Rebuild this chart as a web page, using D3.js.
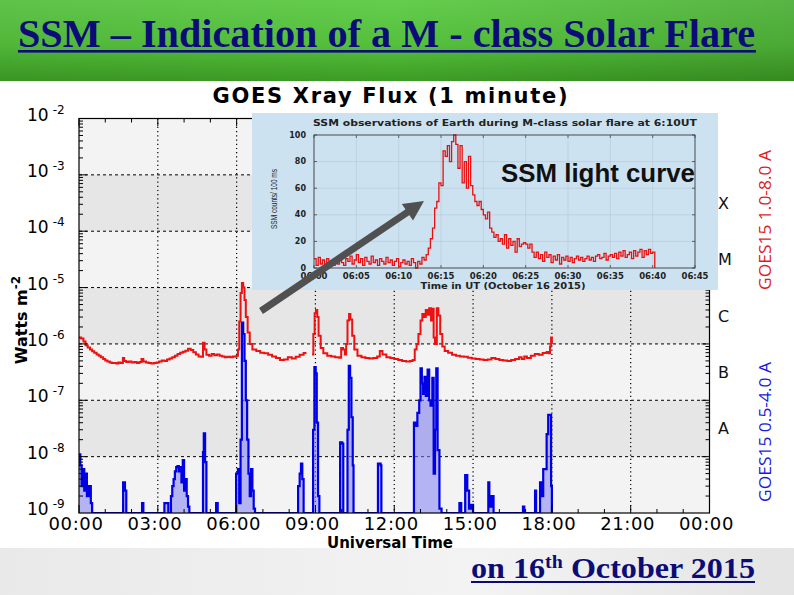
<!DOCTYPE html>
<html><head><meta charset="utf-8">
<script src="https://cdn.jsdelivr.net/npm/d3@7"></script>
<style>body{margin:0;background:#fff}svg{display:block}</style>
</head><body><svg id="c" width="794" height="595"></svg>
<script>
// ---------- DATA ----------
const slideTitle = "SSM \u2013 Indication of a M - class Solar Flare";
const chartTitle = "GOES Xray Flux (1 minute)";
const hourTicks = [0,3,6,9,12,15,18,21,24];
const hourLabels = ["00:00","03:00","06:00","09:00","12:00","15:00","18:00","21:00","00:00"];
const decadeExps = [-2,-3,-4,-5,-6,-7,-8,-9];
const classLabels = ["X","M","C","B","A"];
const classLowExps = [-4,-5,-6,-7,-8];

// GOES15 1.0-8.0 A (hours UT, W m^-2); null = data gap
const redTimes = [0.00,0.08,0.17,0.25,0.33,0.42,0.50,0.58,0.67,0.75,0.83,0.92,1.00,1.08,1.17,1.25,1.33,1.42,1.50,1.58,1.67,1.72,1.80,1.90,2.00,2.10,2.20,2.30,2.38,2.45,2.55,2.65,2.75,2.85,2.95,3.05,3.15,3.25,3.35,3.45,3.55,3.65,3.75,3.85,3.95,4.05,4.15,4.25,4.35,4.45,4.55,4.65,4.72,4.78,4.85,4.95,5.05,5.15,5.25,5.35,5.45,5.55,5.65,5.75,5.85,5.95,6.00,6.05,6.10,6.15,6.20,6.25,6.30,6.35,6.42,6.50,6.60,6.75,6.90,7.05,7.20,7.35,7.50,7.65,7.80,7.95,8.10,8.25,8.40,8.55,8.62,8.70,8.87,8.92,8.97,9.02,9.07,9.12,9.20,9.30,9.45,9.60,9.75,9.90,9.98,10.05,10.12,10.17,10.22,10.28,10.33,10.40,10.48,10.60,10.75,10.90,11.05,11.20,11.35,11.45,11.55,11.70,11.85,12.00,12.15,12.30,12.45,12.60,12.70,12.78,12.85,12.92,13.00,13.07,13.13,13.20,13.27,13.33,13.40,13.45,13.50,13.55,13.62,13.68,13.75,13.83,13.92,14.05,14.20,14.35,14.50,14.65,14.80,14.95,15.10,15.25,15.40,15.55,15.70,15.85,16.00,16.15,16.30,16.45,16.60,16.75,16.85,16.95,17.05,17.20,17.35,17.50,17.65,17.80,17.88,17.93,17.97,18.00];
const redValues = [1.3e-6,1.25e-6,1.1e-6,9.5e-7,8.6e-7,8.0e-7,7.4e-7,7.0e-7,6.5e-7,6.2e-7,5.8e-7,5.4e-7,5.1e-7,4.9e-7,4.7e-7,4.6e-7,4.6e-7,4.5e-7,4.7e-7,4.6e-7,5.6e-7,5.0e-7,4.8e-7,4.9e-7,4.7e-7,4.8e-7,4.6e-7,4.8e-7,5.4e-7,4.9e-7,4.7e-7,4.6e-7,4.5e-7,4.6e-7,4.7e-7,4.9e-7,5.1e-7,5.0e-7,5.3e-7,5.5e-7,5.8e-7,6.2e-7,6.6e-7,7.0e-7,7.3e-7,7.6e-7,8.2e-7,7.8e-7,7.1e-7,6.5e-7,6.0e-7,5.9e-7,1.05e-6,8.0e-7,6.4e-7,6.2e-7,6.6e-7,6.3e-7,6.5e-7,6.2e-7,6.0e-7,5.8e-7,5.9e-7,5.8e-7,6.0e-7,5.9e-7,6.2e-7,8.0e-7,2.5e-6,8.0e-6,1.2e-5,1.0e-5,6.0e-6,3.0e-6,1.6e-6,1.0e-6,8.0e-7,7.5e-7,7.0e-7,6.8e-7,6.4e-7,6.0e-7,5.6e-7,5.2e-7,5.3e-7,5.8e-7,5.5e-7,5.9e-7,6.4e-7,6.9e-7,7.2e-7,null,6.5e-7,1.5e-6,3.5e-6,4.0e-6,3.0e-6,1.4e-6,8.5e-7,6.8e-7,6.2e-7,6.0e-7,5.8e-7,5.7e-7,8.5e-7,8.0e-7,6.5e-7,1.0e-6,2.6e-6,3.4e-6,2.7e-6,1.4e-6,8.0e-7,6.2e-7,5.8e-7,5.6e-7,5.5e-7,5.6e-7,6.0e-7,7.5e-7,6.5e-7,5.8e-7,5.6e-7,5.4e-7,5.2e-7,5.0e-7,4.9e-7,5.0e-7,5.2e-7,8.0e-7,1.0e-6,1.5e-6,2.6e-6,3.4e-6,3.0e-6,4.0e-6,3.3e-6,4.3e-6,2.6e-6,4.2e-6,1.3e-6,1.0e-6,4.3e-6,3.2e-6,1.5e-6,9.0e-7,7.5e-7,7.0e-7,6.4e-7,6.2e-7,6.0e-7,5.9e-7,5.7e-7,5.5e-7,5.4e-7,5.3e-7,5.2e-7,5.3e-7,5.6e-7,5.4e-7,5.2e-7,5.1e-7,5.0e-7,5.2e-7,5.4e-7,5.8e-7,5.4e-7,6.0e-7,5.6e-7,6.2e-7,6.6e-7,6.4e-7,6.9e-7,7.2e-7,6.8e-7,9.0e-7,1.3e-6,1.0e-6];

// GOES15 0.5-4.0 A (hours UT, W m^-2); 1e-9 = at/below plot floor
const blueTimes = [0.00,0.05,0.10,0.15,0.20,0.25,0.30,0.38,0.45,0.50,1.65,1.68,1.75,1.80,2.35,2.40,2.45,3.20,3.25,3.35,3.40,3.50,3.55,3.60,3.65,3.70,3.75,3.80,3.85,3.90,3.95,4.00,4.05,4.10,4.15,4.20,4.70,4.72,4.75,4.80,4.85,5.20,5.22,5.28,5.95,5.98,6.05,6.10,6.15,6.20,6.25,6.30,6.35,6.40,6.45,6.50,6.55,6.60,6.65,6.70,8.30,8.34,8.40,8.45,8.50,8.55,8.88,8.91,8.96,9.01,9.05,9.10,9.15,9.92,9.94,10.02,10.06,10.20,10.22,10.27,10.32,10.37,10.42,10.45,11.36,11.38,11.48,11.51,12.72,12.75,12.82,12.88,12.95,13.00,13.05,13.10,13.15,13.20,13.27,13.33,13.38,13.45,13.50,13.55,13.60,13.65,13.72,13.80,14.45,14.48,14.55,14.68,14.70,14.78,14.85,14.92,15.00,15.55,15.58,15.62,15.70,15.78,16.88,16.90,16.95,17.33,17.36,17.40,17.52,17.55,17.60,17.67,17.74,17.80,17.86,17.93,17.97,18.00];
const blueValues = [1.1e-8,7e-9,3e-9,6e-9,2.5e-9,5e-9,2e-9,3e-9,1.5e-9,1e-9,1e-9,3.5e-9,2.5e-9,1e-9,1e-9,1.5e-9,1e-9,1e-9,1.5e-9,1.5e-9,1e-9,2e-9,3e-9,4e-9,5.5e-9,6.5e-9,6.8e-9,5.5e-9,6.5e-9,3.5e-9,8.7e-9,2.5e-9,4e-9,2e-9,1.3e-9,1e-9,1e-9,1.2e-8,2.6e-8,8e-9,1e-9,1e-9,1.5e-9,1e-9,1e-9,5e-9,6e-9,1.5e-9,2e-8,2.4e-6,1.5e-6,5e-7,1e-7,2e-8,5e-9,2e-9,6e-9,2.5e-9,1.2e-9,1e-9,1e-9,3e-9,5e-9,7.5e-9,4e-9,1e-9,1e-9,3e-8,3.9e-7,3e-7,4e-8,2e-9,1e-9,1e-9,1.8e-8,1.7e-8,1e-9,1e-9,3e-8,4.1e-7,2.5e-7,5e-8,7e-9,1e-9,1e-9,7.5e-9,7e-9,1e-9,1e-9,4e-8,3.5e-8,6e-8,1e-7,3.7e-7,2e-7,1.3e-7,2.6e-7,1.2e-7,3.5e-7,1e-7,8e-8,2.5e-7,5e-9,3e-8,3.7e-7,1.3e-8,1.2e-9,1e-9,1e-9,1.5e-9,1e-9,1e-9,4.7e-9,2.5e-9,1.2e-9,1.4e-9,1e-9,1e-9,3.5e-9,1.3e-9,2e-9,1e-9,1e-9,1.3e-9,1e-9,1e-9,2.5e-9,1e-9,1e-9,3.5e-9,2e-9,6e-9,6e-9,2.5e-8,5.5e-8,5.5e-8,3e-9,1e-9];

// SSM light curve: counts per 100 ms, one sample every 15 s starting 06:00 UT
const ssmStepMinutes = 0.25;
const ssmCounts = [7,2,8,3,6,1,7,4,5,2,6,3,8,4,2,7,5,9,3,6,10,4,7,2,8,5,3,9,4,6,2,7,5,3,8,4,6,2,5,7,1,4,6,3,5,2,7,4,0,5,3,8,6,10,
 15,22,30,45,50,64,62,88,84,92,80,95,100,93,75,92,64,80,60,84,62,55,50,47,50,44,40,37,42,30,27,23,25,20,22,18,25,15,22,17,20,12,22,16,18,19,18,15,18,12,
 8,12,7,10,5,12,8,10,4,9,6,10,3,8,6,9,5,8,4,7,9,6,8,5,7,9,6,8,5,9,10,7,8,11,6,9,10,8,11,7,12,9,13,8,10,12,7,13,9,12,14,8,13,10,14,11,12,0];
const insetYTicks = [0,20,40,60,80,100];
const insetXTicks = [0,5,10,15,20,25,30,35,40,45];
const insetXLabels = ["06:00","06:05","06:10","06:15","06:20","06:25","06:30","06:35","06:40","06:45"];

// ---------- DRAW ----------
const svg = d3.select("#c");
const defs = svg.append("defs");
const g1 = defs.append("linearGradient").attr("id","ban").attr("x1",0).attr("y1",0).attr("x2",0).attr("y2",1);
g1.append("stop").attr("offset","0%").attr("stop-color","#64cd4e");
g1.append("stop").attr("offset","55%").attr("stop-color","#55c03c");
g1.append("stop").attr("offset","100%").attr("stop-color","#3c9c24");
const g2 = defs.append("linearGradient").attr("id","banh").attr("x1",0).attr("y1",0).attr("x2",1).attr("y2",0);
g2.append("stop").attr("offset","0%").attr("stop-color","#000").attr("stop-opacity",0.05);
g2.append("stop").attr("offset","50%").attr("stop-color","#000").attr("stop-opacity",0);
g2.append("stop").attr("offset","100%").attr("stop-color","#000").attr("stop-opacity",0.12);
const g3 = defs.append("linearGradient").attr("id","bot").attr("x1",0).attr("y1",0).attr("x2",1).attr("y2",0);
g3.append("stop").attr("offset","0%").attr("stop-color","#e9e9e9");
g3.append("stop").attr("offset","60%").attr("stop-color","#f3f3f3");
g3.append("stop").attr("offset","100%").attr("stop-color","#e4e4e4");

svg.append("rect").attr("x",0).attr("y",0).attr("width",794).attr("height",81).attr("fill","url(#ban)");
svg.append("rect").attr("x",0).attr("y",0).attr("width",794).attr("height",81).attr("fill","url(#banh)");
svg.append("rect").attr("x",0).attr("y",548).attr("width",794).attr("height",47).attr("fill","url(#bot)");

const navy = "#0c0c78";
svg.append("text").attr("x",18).attr("y",47)
  .attr("font-family","'Liberation Serif','Times New Roman',serif").attr("font-weight","bold")
  .attr("font-size",40).attr("fill",navy).attr("textLength",737).attr("lengthAdjust","spacingAndGlyphs")
  .text(slideTitle);
svg.append("rect").attr("x",18).attr("y",50).attr("width",738).attr("height",2.6).attr("fill",navy);

// main chart scales
const x = d3.scaleLinear().domain([0,24]).range([79,709.5]);
const y = d3.scaleLog().domain([1e-9,1e-2]).range([513,118.5]);
const [px0,px1] = x.range(), py0 = y(1e-2), py1 = y(1e-9);

const plot = svg.append("g");
d3.range(-9,-2).forEach(e=>{
  plot.append("rect").attr("x",px0).attr("width",px1-px0)
    .attr("y",y(Math.pow(10,e+1))).attr("height",y(Math.pow(10,e))-y(Math.pow(10,e+1)))
    .attr("fill", (e===-8||e===-6||e===-4) ? "#e6e6e6" : "#f3f3f3");
});
decadeExps.filter(e=>e>-9 && e<-2).forEach(e=>{
  plot.append("line").attr("x1",px0).attr("x2",px1).attr("y1",y(Math.pow(10,e))).attr("y2",y(Math.pow(10,e)))
    .attr("stroke","#000").attr("stroke-width",1).attr("stroke-dasharray","3,3");
});
hourTicks.filter(h=>h>0&&h<24).forEach(h=>{
  plot.append("line").attr("x1",x(h)).attr("x2",x(h)).attr("y1",py0).attr("y2",py1)
    .attr("stroke","#000").attr("stroke-width",1.2).attr("stroke-dasharray","1.2,3");
});
defs.append("clipPath").attr("id","pc").append("rect").attr("x",px0).attr("y",py0).attr("width",px1-px0).attr("height",py1-py0);

const blue = blueTimes.map((t,i)=>({t,v:blueValues[i]}));
const red = redTimes.map((t,i)=>({t,v:redValues[i]}));
const floorV = 1e-9;
plot.append("path").datum(blue).attr("clip-path","url(#pc)")
  .attr("d",d3.area().x(d=>x(d.t)).y0(y(floorV)).y1(d=>y(Math.max(d.v,floorV))).curve(d3.curveStepAfter))
  .attr("fill","#8080f4").attr("fill-opacity",0.55);
plot.append("path").datum(blue).attr("clip-path","url(#pc)")
  .attr("d",d3.line().x(d=>x(d.t)).y(d=>y(Math.max(d.v,floorV))).curve(d3.curveStepAfter))
  .attr("fill","none").attr("stroke","#0000e6").attr("stroke-width",2.2);
plot.append("path").datum(red).attr("clip-path","url(#pc)")
  .attr("d",d3.line().defined(d=>d.v!==null).x(d=>x(d.t)).y(d=>y(d.v)).curve(d3.curveStepAfter))
  .attr("fill","none").attr("stroke","#ee1111").attr("stroke-width",2);

plot.append("rect").attr("x",px0).attr("y",py0).attr("width",px1-px0).attr("height",py1-py0)
  .attr("fill","none").attr("stroke","#000").attr("stroke-width",1.2);
d3.range(-9,-2).forEach(e=>{
  d3.range(1,10).forEach(k=>{
    const yy = y(k*Math.pow(10,e)); const L = k===1?8:4;
    if(k===1 && e===-9) return;
    plot.append("line").attr("x1",px0).attr("x2",px0+L).attr("y1",yy).attr("y2",yy).attr("stroke","#000");
    plot.append("line").attr("x1",px1).attr("x2",px1-L).attr("y1",yy).attr("y2",yy).attr("stroke","#000");
  });
});
d3.range(0,25).forEach(h=>{
  const L = h%3===0?8:4;
  plot.append("line").attr("x1",x(h)).attr("x2",x(h)).attr("y1",py1).attr("y2",py1-L).attr("stroke","#000");
  plot.append("line").attr("x1",x(h)).attr("x2",x(h)).attr("y1",py0).attr("y2",py0+L).attr("stroke","#000");
});
const sans = "'DejaVu Sans',Verdana,sans-serif";
decadeExps.forEach(e=>{
  const t = plot.append("text").attr("x",27).attr("y",y(Math.pow(10,e))+2)
    .attr("font-family",sans).attr("font-size",17).attr("fill","#000");
  t.append("tspan").text("10");
  t.append("tspan").attr("dx",4).attr("dy",-7).attr("font-size",12).text(String(e));
});
hourTicks.forEach((h,i)=>{
  plot.append("text").attr("x",x(h)-3).attr("y",530).attr("text-anchor","middle")
    .attr("font-family",sans).attr("font-size",18).attr("letter-spacing",0.6).text(hourLabels[i]);
});
svg.append("text").attr("x",390).attr("y",103).attr("text-anchor","middle")
  .attr("font-family",sans).attr("font-weight","bold").attr("font-size",21)
  .attr("textLength",355).attr("lengthAdjust","spacing").text(chartTitle);
svg.append("text").attr("x",390).attr("y",548).attr("text-anchor","middle")
  .attr("font-family",sans).attr("font-weight","bold").attr("font-size",15).text("Universal Time");
const yl = svg.append("text").attr("transform","translate(27,320) rotate(-90)").attr("text-anchor","middle")
  .attr("font-family",sans).attr("font-weight","bold").attr("font-size",16);
yl.append("tspan").text("Watts m");
yl.append("tspan").attr("dy",-7).attr("font-size",12).text("-2");
classLabels.forEach((c,i)=>{
  const e = classLowExps[i];
  svg.append("text").attr("x",718).attr("y",(y(Math.pow(10,e))+y(Math.pow(10,e+1)))/2+6)
    .attr("font-family",sans).attr("font-size",16).attr("fill","#111").text(c);
});
svg.append("text").attr("transform","translate(771,220) rotate(-90)").attr("text-anchor","middle")
  .attr("font-family","'Open Sans',sans-serif").attr("font-size",16).attr("fill","#e01b1b")
  .attr("textLength",140).attr("lengthAdjust","spacingAndGlyphs").text("GOES15 1.0-8.0 A");
svg.append("text").attr("transform","translate(771,432) rotate(-90)").attr("text-anchor","middle")
  .attr("font-family","'Open Sans',sans-serif").attr("font-size",16).attr("fill","#1a1adc")
  .attr("textLength",140).attr("lengthAdjust","spacingAndGlyphs").text("GOES15 0.5-4.0 A");

// ---------- INSET ----------
const ins = svg.append("g");
ins.append("rect").attr("x",252).attr("y",113).attr("width",466).attr("height",177).attr("fill","#cde2f0");
const xi = d3.scaleLinear().domain([0,45]).range([314,695]);
const yi = d3.scaleLinear().domain([0,100]).range([268,135]);
insetXTicks.forEach(m=>{
  ins.append("line").attr("x1",xi(m)).attr("x2",xi(m)).attr("y1",yi(100)).attr("y2",yi(0)).attr("stroke","#b4c6d3").attr("stroke-width",0.6);
  ins.append("line").attr("x1",xi(m)).attr("x2",xi(m)).attr("y1",yi(0)).attr("y2",yi(0)-3).attr("stroke","#333").attr("stroke-width",0.7);
  ins.append("line").attr("x1",xi(m)).attr("x2",xi(m)).attr("y1",yi(100)).attr("y2",yi(100)+3).attr("stroke","#333").attr("stroke-width",0.7);
});
insetYTicks.forEach(v=>{
  ins.append("line").attr("x1",xi(0)).attr("x2",xi(45)).attr("y1",yi(v)).attr("y2",yi(v)).attr("stroke","#b4c6d3").attr("stroke-width",0.6);
  ins.append("line").attr("x1",xi(0)).attr("x2",xi(0)+3).attr("y1",yi(v)).attr("y2",yi(v)).attr("stroke","#333").attr("stroke-width",0.7);
  ins.append("line").attr("x1",xi(45)).attr("x2",xi(45)-3).attr("y1",yi(v)).attr("y2",yi(v)).attr("stroke","#333").attr("stroke-width",0.7);
  ins.append("text").attr("x",306).attr("y",yi(v)+2.5).attr("text-anchor","end")
    .attr("font-family",sans).attr("font-weight","bold").attr("font-size",8).attr("fill","#222").text(v);
});
const ssm = ssmCounts.map((c,i)=>({m:i*ssmStepMinutes,c}));
ins.append("path").datum(ssm)
  .attr("d",d3.line().x(d=>xi(d.m)).y(d=>yi(d.c)).curve(d3.curveStepAfter))
  .attr("fill","none").attr("stroke","#e81010").attr("stroke-width",1.3);
ins.append("rect").attr("x",xi(0)).attr("y",yi(100)).attr("width",xi(45)-xi(0)).attr("height",yi(0)-yi(100))
  .attr("fill","none").attr("stroke","#333").attr("stroke-width",0.8);
insetXTicks.forEach((m,i)=>{
  ins.append("text").attr("x",xi(m)).attr("y",279).attr("text-anchor","middle")
    .attr("font-family",sans).attr("font-weight","bold").attr("font-size",8.5).attr("fill","#222").text(insetXLabels[i]);
});
ins.append("text").attr("x",505).attr("y",126).attr("text-anchor","middle")
  .attr("font-family",sans).attr("font-weight","bold").attr("font-size",8.5).attr("fill","#222")
  .attr("textLength",384).attr("lengthAdjust","spacingAndGlyphs")
  .text("SSM observations of Earth during M-class solar flare at 6:10UT");
ins.append("text").attr("x",503).attr("y",288.5).attr("text-anchor","middle")
  .attr("font-family",sans).attr("font-weight","bold").attr("font-size",8.5).attr("fill","#222")
  .attr("textLength",165).attr("lengthAdjust","spacingAndGlyphs").text("Time in UT (October 16 2015)");
ins.append("text").attr("transform","translate(277,199) rotate(-90)").attr("text-anchor","middle")
  .attr("font-family","'Liberation Sans',Arial,sans-serif").attr("font-size",9.5).attr("fill","#222")
  .attr("textLength",60).attr("lengthAdjust","spacingAndGlyphs").text("SSM counts/ 100 ms");
svg.append("text").attr("x",501).attr("y",182)
  .attr("font-family","'Liberation Sans',Arial,sans-serif").attr("font-weight","bold").attr("font-size",25)
  .attr("fill","#111").attr("textLength",194).attr("lengthAdjust","spacingAndGlyphs").text("SSM light curve");

// arrow annotation
const a0=[261,311], a1=[424,201];
const dx=a1[0]-a0[0], dy=a1[1]-a0[1], L=Math.hypot(dx,dy), ux=dx/L, uy=dy/L;
const hb=[a1[0]-ux*20, a1[1]-uy*20];
svg.append("line").attr("x1",a0[0]).attr("y1",a0[1]).attr("x2",hb[0]+ux*2).attr("y2",hb[1]+uy*2)
  .attr("stroke","#505050").attr("stroke-width",7);
svg.append("polygon").attr("points",[a1,[hb[0]-uy*10,hb[1]+ux*10],[hb[0]+uy*10,hb[1]-ux*10]].map(p=>p.join(",")).join(" "))
  .attr("fill","#505050");

// bottom text
const bt = svg.append("text").attr("x",471).attr("y",578)
  .attr("font-family","'Liberation Serif','Times New Roman',serif").attr("font-weight","bold")
  .attr("font-size",29).attr("fill",navy).attr("textLength",284).attr("lengthAdjust","spacingAndGlyphs");
bt.append("tspan").text("on 16");
bt.append("tspan").attr("dy",-10).attr("font-size",18).text("th");
bt.append("tspan").attr("dy",10).text(" October 2015");
const bb = bt.node().getBBox();
svg.append("rect").attr("x",bb.x).attr("y",581).attr("width",bb.width).attr("height",2).attr("fill",navy);
</script></body></html>
